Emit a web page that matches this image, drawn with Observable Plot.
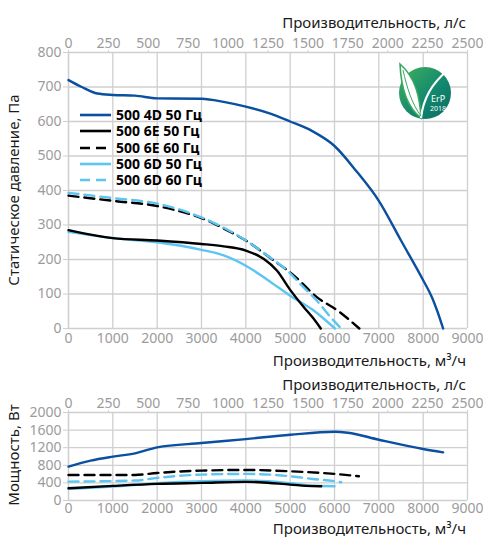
<!DOCTYPE html>
<html><head><meta charset="utf-8">
<script src="https://cdn.jsdelivr.net/npm/d3@7"></script>
<script src="https://cdn.jsdelivr.net/npm/@observablehq/plot@0.6"></script>
<style>
body{margin:0;background:#fff;font-family:"Noto Sans",sans-serif;}
#wrap{position:relative;width:483px;height:537px;overflow:hidden;}
#wrap svg{display:block;}
.t{position:absolute;font-size:15px;color:#1a1a1a;white-space:nowrap;line-height:1;}
.rot{transform-origin:center center;transform:translate(-50%,-50%) rotate(-90deg);}
#legend{position:absolute;left:80px;top:107px;font-weight:bold;font-size:14px;color:#000;}
#legend .row{height:16.3px;display:flex;align-items:center;line-height:14px;}
#legend svg{margin-right:5px;}
</style></head><body><div id="wrap"></div>
<script>
// ---- tick values ----
const flowTicks = [0,1000,2000,3000,4000,5000,6000,7000,8000,9000];      // м³/ч
const lsTicks = [0,250,500,750,1000,1250,1500,1750,2000,2250,2500];       // л/с
const pressureTicks = [0,100,200,300,400,500,600,700,800];
const powerTicks = [0,400,800,1200,1600,2000];

// ---- series ----
const seriesNames = ["500 4D 50 Гц","500 6E 50 Гц","500 6E 60 Гц","500 6D 50 Гц","500 6D 60 Гц"];
const seriesColors = ["#0b4fa0","#000000","#000000","#5cc5f2","#5cc5f2"];
const seriesDash = [null,null,"10,6",null,"10,6"];

// pressure curves [flow м³/ч, Па]
const pressure4D50 = [[0,720],[300,700],[650,681],[1000,677],[1500,675],[2000,667],[3000,666],[3500,657],[4000,643],[4500,625],[5000,600],[5500,572],[6000,529],[6500,455],[7000,370],[7500,255],[8000,140],[8200,90],[8320,50],[8450,0]];
const pressure6E50 = [[0,285],[500,272],[1000,262],[2000,255],[3000,245],[3500,238],[4000,226],[4400,202],[4700,168],[5000,112],[5300,63],[5500,33],[5690,0]];
const pressure6E60 = [[0,385],[1000,370],[2000,355],[2500,340],[3000,320],[3500,290],[4000,255],[4600,200],[5100,152],[5600,91],[6070,52],[6560,0]];
const pressure6D50 = [[0,280],[1000,262],[2000,250],[3000,228],[3500,212],[4000,182],[4500,140],[5000,95],[5500,55],[6010,0]];
const pressure6D60 = [[0,393],[1000,378],[2000,362],[2500,345],[3000,322],[3500,292],[4000,255],[4500,210],[5000,160],[5220,130],[5600,81],[5910,33],[6150,0]];

// power curves [flow м³/ч, Вт]
const power4D50 = [[0,770],[500,905],[1000,996],[1500,1072],[2000,1208],[3000,1306],[4000,1396],[5000,1494],[6000,1562],[6300,1540],[7000,1381],[8000,1170],[8450,1094]];
const power6E50 = [[0,279],[1000,332],[2000,377],[3000,400],[4000,423],[4300,415],[5000,362],[5500,327],[5700,325]];
const power6E60 = [[0,581],[1500,581],[2000,626],[3000,679],[4000,694],[5000,664],[6000,604],[6550,551]];
const power6D50 = [[0,264],[1000,317],[2000,392],[3000,438],[4000,453],[4500,438],[5000,392],[5500,340],[6000,325]];
const power6D60 = [[0,430],[1500,453],[2000,513],[3000,589],[4000,604],[5000,551],[5500,490],[6000,438],[6150,415]];

const pressureSeries = [pressure4D50,pressure6E50,pressure6E60,pressure6D50,pressure6D60];
const powerSeries = [power4D50,power6E50,power6E60,power6D50,power6D60];
const drawOrder = [0,2,4,3,1];

const gridColor = "#cfcfcf";
const tickColor = "#9b9b9b";
const fmt = d => String(Math.round(d));

function lines(all){
  return drawOrder.map(i => Plot.line(all[i].map(([q,v]) => ({q, v, s: seriesNames[i]})), {
    x:"q", y:"v", stroke: seriesColors[i], strokeWidth: 2.4,
    strokeDasharray: seriesDash[i] || undefined, curve: "monotone-x"
  }));
}

function chart({height, marginTop, marginBottom, yTicks, yDomain, data, bottomPad}){
  return Plot.plot({
    width: 483, height, marginTop, marginBottom, marginLeft: 68, marginRight: 16,
    style: {fontFamily: '"Noto Sans", sans-serif', fontSize: "14px", color: tickColor, background: "transparent", overflow: "visible"},
    x: {domain: [0, 9000]},
    y: {domain: yDomain},
    marks: [
      Plot.gridX(flowTicks, {stroke: gridColor, strokeOpacity: 1, strokeWidth: 1.3}),
      Plot.gridY(yTicks, {stroke: gridColor, strokeOpacity: 1, strokeWidth: 1.3}),
      Plot.axisX(flowTicks, {anchor: "bottom", tickSize: 0, tickPadding: bottomPad, label: null, fill: tickColor, fontSize: 14, tickFormat: fmt}),
      Plot.axisX(lsTicks.map(v => v * 3.6), {anchor: "top", tickSize: 3, tickPadding: 2, stroke: gridColor, label: null, fill: tickColor, fontSize: 14, tickFormat: d => fmt(d / 3.6)}),
      Plot.axisY(yTicks, {anchor: "left", tickSize: 5, tickPadding: 2, stroke: gridColor, label: null, fill: tickColor, fontSize: 14, tickFormat: fmt}),
      Plot.ruleX([0], {stroke: gridColor, strokeWidth: 1.3}),
      ...lines(data)
    ]
  });
}

const wrap = document.getElementById("wrap");
const top1 = chart({height: 368, marginTop: 52, marginBottom: 40, yTicks: pressureTicks, yDomain: [0, 800], data: pressureSeries, bottomPad: 5});
const bot1 = chart({height: 169, marginTop: 44, marginBottom: 37, yTicks: powerTicks, yDomain: [0, 2000], data: powerSeries, bottomPad: 3});
wrap.appendChild(top1);
wrap.appendChild(bot1);

function addText(txt, x, y, cls, anchorRight){
  const d = document.createElement("div");
  d.className = "t " + (cls || "");
  d.textContent = txt;
  d.style.top = y + "px";
  if (anchorRight) { d.style.right = (483 - x) + "px"; d.style.transform = "translateY(-50%)"; }
  else { d.style.left = x + "px"; }
  wrap.appendChild(d);
  return d;
}
addText("Производительность, л/с", 466, 22, "", true);
addText("Производительность, м³/ч", 466, 360, "", true);
addText("Производительность, л/с", 466, 383.5, "", true);
addText("Производительность, м³/ч", 466, 528, "", true);
addText("Статическое давление, Па", 13, 190, "rot");
addText("Мощность, Вт", 13, 455, "rot");

// legend
const lg = document.createElement("div");
lg.id = "legend";
seriesNames.forEach((name, i) => {
  const row = document.createElement("div");
  row.className = "row";
  row.innerHTML = `<svg width="31" height="6"><line x1="0" y1="3" x2="31" y2="3" stroke="${seriesColors[i]}" stroke-width="2.6" ${seriesDash[i] ? `stroke-dasharray="${seriesDash[i]}"` : ""}/></svg><span>${name}</span>`;
  lg.appendChild(row);
});
wrap.appendChild(lg);

// ErP 2018 logo
const logo = document.createElement("div");
logo.style.cssText = "position:absolute;left:394px;top:60px;width:62px;height:62px;";
logo.innerHTML = `<svg width="62" height="62" viewBox="0 0 62 62">
<defs><linearGradient id="lgG" x1="0" y1="0" x2="1" y2="1"><stop offset="0" stop-color="#43b05c"/><stop offset="0.55" stop-color="#138a6e"/><stop offset="1" stop-color="#0b6a63"/></linearGradient></defs>
<circle cx="31" cy="33" r="26" fill="url(#lgG)"/>
<path d="M6 4 C 7 28, 14 48, 27 58 C 26 38, 22 18, 6 4 Z" fill="#fff" stroke="#3aa860" stroke-width="1.6"/>
<path d="M27 58 C 29 40, 37 24, 53 11" fill="none" stroke="#fff" stroke-width="2.2"/>
<path d="M9 10 C 13 28, 18 44, 27 56" fill="none" stroke="#3aa860" stroke-width="1"/>
<text x="44" y="42" fill="#fff" font-size="9" font-family="Noto Sans" text-anchor="middle">ErP</text>
<text x="44" y="51" fill="#fff" font-size="7" font-family="Noto Sans" text-anchor="middle">2018</text>
</svg>`;
wrap.appendChild(logo);
</script></body></html>
